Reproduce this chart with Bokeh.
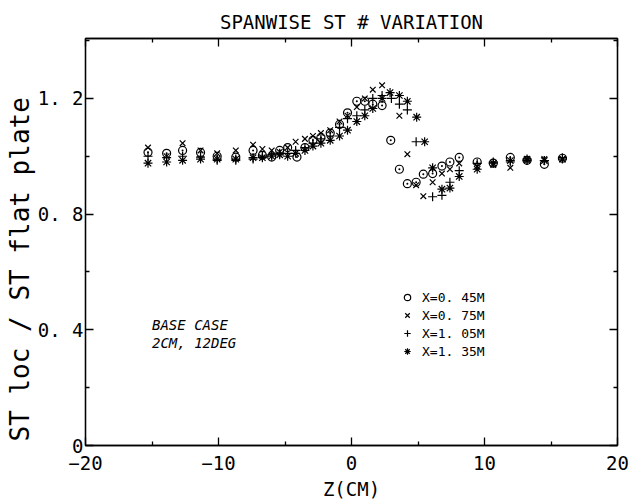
from bokeh.plotting import figure
from bokeh.models import (LinearAxis, FixedTicker, Range1d, Label, Legend, LegendItem,
                          ColumnDataSource, Title)
from bokeh.embed import file_html
from bokeh.resources import INLINE

# ---------------- data ----------------
z_045 = [-15.3, -13.9, -12.7, -11.35, -10.1, -8.7, -7.4,
         -6.7, -6.0, -5.4, -4.8, -4.1, -3.5, -2.9, -2.3, -1.6, -0.9, -0.3, 0.4, 1.0, 1.6, 2.3,
         2.95, 3.6, 4.2, 4.86, 5.4, 6.1, 6.8, 7.4, 8.1,
         9.45, 10.66, 11.94, 13.2, 14.5, 15.86]
st_045 = [1.014, 1.01, 1.02, 1.013, 1.0, 0.997, 1.02,
          1.003, 0.997, 1.02, 1.03, 0.997, 1.03, 1.055, 1.065, 1.08, 1.11, 1.15, 1.19, 1.19, 1.18, 1.175,
          1.055, 0.955, 0.905, 0.91, 0.938, 0.94, 0.966, 0.98, 0.996,
          0.98, 0.976, 0.996, 0.986, 0.972, 0.993]

z_075 = [-15.3, -13.9, -12.7, -11.35, -10.1, -8.7, -7.4,
         -6.7, -6.0, -5.4, -4.8, -4.2, -3.5, -2.9, -2.3, -1.6, -0.9, -0.3, 0.4, 1.0, 1.6, 2.3,
         3.6, 4.2, 4.86, 5.4, 6.1, 6.8, 7.4, 8.1,
         9.45, 10.66, 11.94, 13.2, 14.5, 15.86]
st_075 = [1.03, 1.0, 1.045, 1.02, 1.01, 1.02, 1.04,
          1.025, 1.02, 1.015, 1.03, 1.05, 1.06, 1.07, 1.08, 1.09, 1.12, 1.14, 1.17, 1.2, 1.23, 1.245,
          1.14, 1.007, 0.9, 0.862, 0.91, 0.94, 0.955, 0.975,
          0.965, 0.97, 0.96, 0.985, 0.99, 0.99]

z_105 = [-15.3, -13.9, -12.7, -11.35, -10.1, -8.7, -7.4,
         -6.7, -6.0, -5.4, -4.8, -4.2, -3.5, -2.9, -2.3, -1.6, -0.9, -0.3, 0.4, 1.0, 1.6, 2.3,
         3.0, 3.6, 4.2, 4.86, 6.1, 6.8, 7.4, 8.1,
         9.45, 10.66, 11.94, 13.2, 14.5, 15.86]
st_105 = [1.0, 0.995, 1.0, 0.997, 0.986, 0.986, 0.99,
          1.0, 1.005, 1.01, 1.01, 1.02, 1.03, 1.045, 1.06, 1.07, 1.1, 1.13, 1.14, 1.16, 1.2, 1.21,
          1.2, 1.18, 1.16, 1.05, 0.86, 0.865, 0.91, 0.95,
          0.975, 0.98, 0.98, 0.985, 0.985, 0.995]

z_135 = [-15.3, -13.9, -12.7, -11.35, -10.1, -8.7, -7.4,
         -6.7, -6.0, -5.4, -4.8, -4.2, -3.5, -2.9, -2.3, -1.6, -0.9, -0.3, 0.4, 1.0, 1.6, 2.3,
         2.9, 3.6, 4.2, 4.9, 5.5, 6.1, 6.8, 7.4, 8.1,
         9.45, 10.66, 11.94, 13.2, 14.5, 15.86]
st_135 = [0.976, 0.98, 0.986, 0.99, 0.99, 0.99, 0.995,
          0.995, 1.0, 1.005, 1.0, 1.01, 1.02, 1.035, 1.045, 1.055, 1.07, 1.09, 1.12, 1.14, 1.165, 1.2,
          1.22, 1.21, 1.19, 1.135, 1.05, 0.96, 0.886, 0.89, 0.93,
          0.955, 0.976, 0.985, 0.99, 0.985, 0.99]

series_labels = ["X=0. 45M", "X=0. 75M", "X=1. 05M", "X=1. 35M"]
x_ticks = [-20, -10, 0, 10, 20]
x_minor = [-15, -5, 5, 15]
y_ticks = [0, 0.4, 0.8, 1.2]
y_tick_labels = ["0", "0. 4", "0. 8", "1. 2"]
y_minor = [0.2, 0.6, 1.0, 1.4]

FONT = "DejaVu Sans Mono"

p = figure(width=639, height=502, x_range=Range1d(-20, 20), y_range=Range1d(0, 1.407),
           output_backend="svg", toolbar_location=None,
           min_border_left=85, min_border_right=22, min_border_top=38, min_border_bottom=56,
           title="SPANWISE ST # VARIATION")
p.grid.visible = False
p.outline_line_color = "black"
p.outline_line_width = 1.3
p.background_fill_color = "white"
p.border_fill_color = "white"

p.title.align = "center"
p.title.text_font = FONT
p.title.text_font_size = "19px"
p.title.text_font_style = "normal"
p.title.text_color = "black"
p.title.offset = 0
p.title.standoff = 12

def style_axis(ax):
    ax.axis_line_color = "black"
    ax.axis_line_width = 1.3
    ax.major_tick_in = 8
    ax.major_tick_out = 0
    ax.minor_tick_in = 4
    ax.minor_tick_out = 0
    ax.major_tick_line_color = "black"
    ax.minor_tick_line_color = "black"
    ax.major_tick_line_width = 1.3
    ax.minor_tick_line_width = 1.3
    ax.major_label_text_font = FONT
    ax.major_label_text_font_size = "19px"
    ax.major_label_text_color = "black"
    ax.axis_label_text_font = FONT
    ax.axis_label_text_font_style = "normal"
    ax.axis_label_text_color = "black"

xa = p.xaxis[0]
xa.ticker = FixedTicker(ticks=x_ticks, minor_ticks=x_minor)
style_axis(xa)
xa.major_label_standoff = 10
xa.axis_label = "Z(CM)"
xa.axis_label_text_font_size = "19px"
xa.axis_label_standoff = 5

ya = p.yaxis[0]
ya.ticker = FixedTicker(ticks=y_ticks, minor_ticks=y_minor)
style_axis(ya)
ya.major_label_overrides = {t: s for t, s in zip(y_ticks, y_tick_labels)}
ya.major_label_standoff = 2

top = LinearAxis(ticker=FixedTicker(ticks=x_ticks, minor_ticks=x_minor))
style_axis(top)
top.major_label_overrides = {t: "" for t in x_ticks}
top.major_label_standoff = 0
p.add_layout(top, "above")
right = LinearAxis(ticker=FixedTicker(ticks=y_ticks, minor_ticks=y_minor))
style_axis(right)
right.major_label_overrides = {t: "" for t in y_ticks}
right.major_label_standoff = 0
p.add_layout(right, "right")

# y-axis title: a left-side Title, anchored near the bottom of the frame
ytitle = Title(text="ST loc / ST flat plate", align="left", offset=4, standoff=0,
               text_font=FONT, text_font_size="26px", text_font_style="normal",
               text_color="black")
p.add_layout(ytitle, "left")

# ---------------- data marks ----------------
kw = dict(line_color="black", line_width=1.2, fill_color=None)
p.scatter(z_045, st_045, marker="circle_dot", size=8, **kw)
p.scatter(z_075, st_075, marker="x", size=8, **kw)
p.scatter(z_105, st_105, marker="cross", size=9, **kw)
p.scatter(z_135, st_135, marker="asterisk", size=9, **kw)

# legend-only renderers (plain symbols as in the key); NaN points are not drawn
ghost = ColumnDataSource(data=dict(x=[float("nan")], y=[float("nan")]))
lr = [p.scatter("x", "y", source=ghost, marker=m, **kw)
      for m in ["circle", "x", "cross", "asterisk"]]
legend = Legend(items=[LegendItem(label=l, renderers=[r]) for l, r in zip(series_labels, lr)],
                location=(314, 85), orientation="vertical",
                border_line_color=None, background_fill_alpha=0,
                padding=0, margin=0, spacing=0,
                glyph_width=16, glyph_height=18, label_height=18, label_standoff=7,
                label_text_font=FONT, label_text_font_size="13px", label_text_color="black")
p.add_layout(legend, "center")

for txt, yy in [("BASE CASE", 0.416), ("2CM, 12DEG", 0.353)]:
    p.add_layout(Label(x=-15.0, y=yy, text=txt, text_font=FONT, text_font_size="14px",
                       text_font_style="italic", text_baseline="middle", text_color="black"))

open("out.html", "w").write(file_html(p, INLINE))
